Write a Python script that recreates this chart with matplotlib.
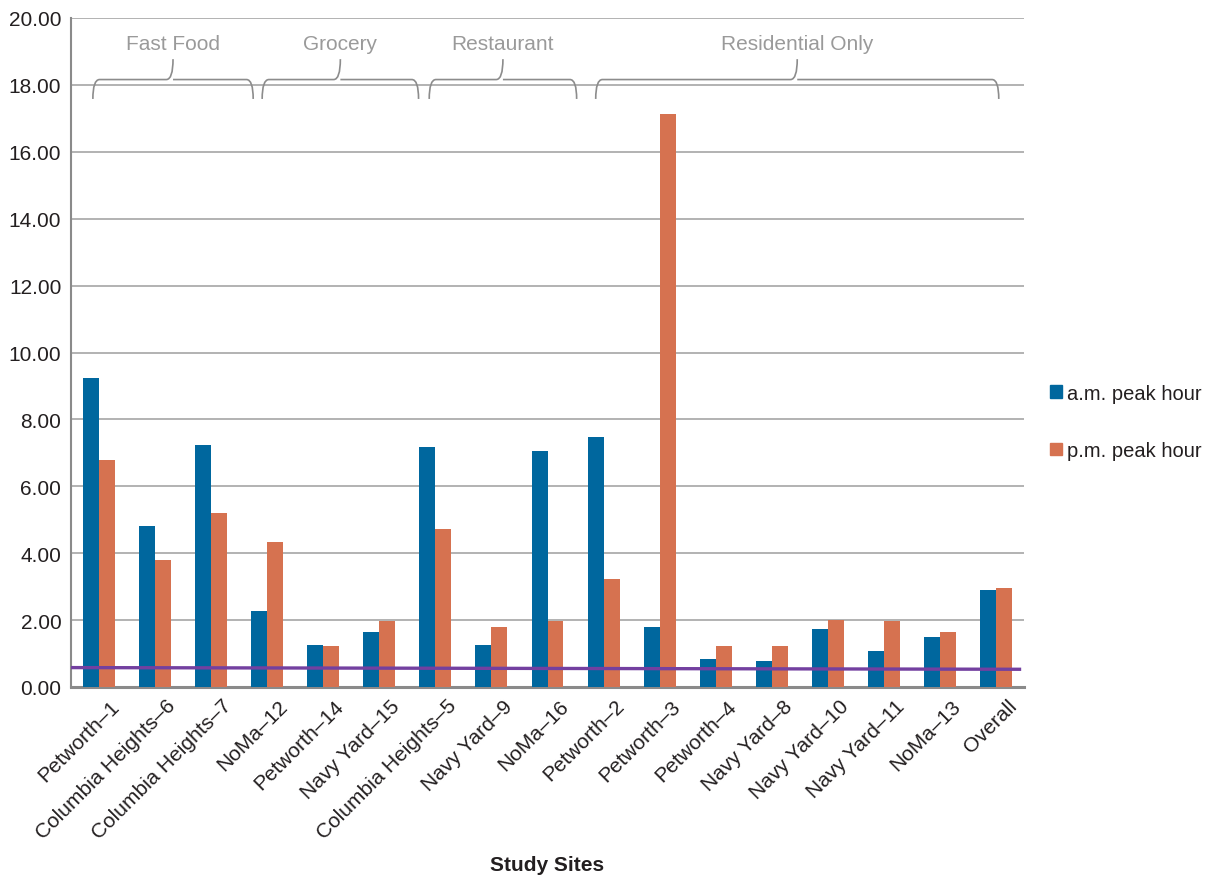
import numpy as np
import matplotlib
matplotlib.use('Agg')
import matplotlib.pyplot as plt
from matplotlib.path import Path
from matplotlib.patches import PathPatch, Patch
import matplotlib.transforms as mtransforms

plt.rcParams.update({
    'font.family': ['Liberation Sans', 'DejaVu Sans'],
    'font.size': 15,
    'text.color': '#231f20',
})

sites = ['Petworth–1', 'Columbia Heights–6', 'Columbia Heights–7', 'NoMa–12',
         'Petworth–14', 'Navy Yard–15', 'Columbia Heights–5', 'Navy Yard–9',
         'NoMa–16', 'Petworth–2', 'Petworth–3', 'Petworth–4', 'Navy Yard–8',
         'Navy Yard–10', 'Navy Yard–11', 'NoMa–13', 'Overall']
am_peak = [9.24, 4.81, 7.23, 2.27, 1.26, 1.65, 7.17, 1.26, 7.06, 7.47,
           1.80, 0.84, 0.79, 1.72, 1.07, 1.49, 2.90]
pm_peak = [6.79, 3.80, 5.20, 4.34, 1.22, 1.98, 4.72, 1.80, 1.98, 3.24,
           17.13, 1.22, 1.22, 2.00, 1.98, 1.65, 2.97]
ref_line = [0.58, 0.53]  # reference rate, left and right ends

groups = ['Fast Food', 'Grocery', 'Restaurant', 'Residential Only']
group_spans = [(-0.11, 2.75), (2.91, 5.70), (5.89, 8.52), (8.86, 16.05)]

BLUE = '#00679e'
ORANGE = '#d67250'
PURPLE = '#7340a0'
GRID = '#a6a6a6'
BRACE = '#8c8c8c'

fig = plt.figure(figsize=(12.13, 8.78), dpi=100)
ax = fig.add_axes([71/1213, 1 - 688/878, (1024 - 71)/1213, (688 - 19)/878])

x = np.arange(len(sites))
w = 0.285
ax.bar(x - w/2, am_peak, w, color=BLUE, label='a.m. peak hour', zorder=3)
ax.bar(x + w/2, pm_peak, w, color=ORANGE, label='p.m. peak hour', zorder=3)
ax.plot([-0.48, len(sites) - 0.58], ref_line, color=PURPLE, lw=2.4, zorder=4)

ax.set_xlim(-0.5, len(sites) - 0.5)
ax.set_ylim(0, 20)
ax.set_yticks(np.arange(0, 21, 2))
ax.set_yticklabels([f'{v:.2f}' for v in np.arange(0, 21, 2)])
ax.yaxis.grid(True, color=GRID, lw=1.2, zorder=0)
ax.set_axisbelow(True)
for s in ['top', 'right']:
    ax.spines[s].set_visible(False)
ax.spines['left'].set_color('#8a8a8a')
ax.spines['left'].set_linewidth(1.5)
ax.spines['bottom'].set_color('#8a8a8a')
ax.spines['bottom'].set_linewidth(2.2)
ax.tick_params(axis='both', length=0, labelcolor='#231f20')
ax.tick_params(axis='y', pad=7)

ax.set_xticks(x)
ax.set_xticklabels(sites, rotation=45, ha='right', rotation_mode='anchor')
offset = mtransforms.ScaledTranslation(11/100, -4/100, fig.dpi_scale_trans)
for lbl in ax.get_xticklabels():
    lbl.set_transform(lbl.get_transform() + offset)

fig.text((71 + 1024) / 2 / 1213, 1 - 866/878, 'Study Sites',
         ha='center', va='center', fontweight='bold')

# curly braces over the site groups
y_end, y_flat, y_tip = 17.58, 18.16, 18.77
for name, (x0, x1) in zip(groups, group_spans):
    xm = (x0 + x1) / 2
    r = 0.12
    verts = [(x0, y_end), (x0, y_flat), (x0 + r, y_flat),
             (xm - r, y_flat), (xm, y_flat), (xm, y_tip),
             (xm, y_flat), (xm + r, y_flat),
             (x1 - r, y_flat), (x1, y_flat), (x1, y_end)]
    codes = [Path.MOVETO, Path.CURVE3, Path.CURVE3,
             Path.LINETO, Path.CURVE3, Path.CURVE3,
             Path.MOVETO, Path.CURVE3,
             Path.LINETO, Path.CURVE3, Path.CURVE3]
    ax.add_patch(PathPatch(Path(verts, codes), fill=False, ec=BRACE,
                           lw=1.2, zorder=5))
    ax.text(xm, 19.25, name, ha='center', va='center', color='#9a9a9a')

handles = [Patch(color=BLUE), Patch(color=ORANGE)]
fig.legend(handles, ['a.m. peak hour', 'p.m. peak hour'],
           loc='center left', bbox_to_anchor=(1032/1213, 1 - 423/878),
           frameon=False, handlelength=0.6, handleheight=0.6,
           handletextpad=0.25, labelspacing=1.9, fontsize=14.5)

fig.savefig('out.png', dpi=100)
